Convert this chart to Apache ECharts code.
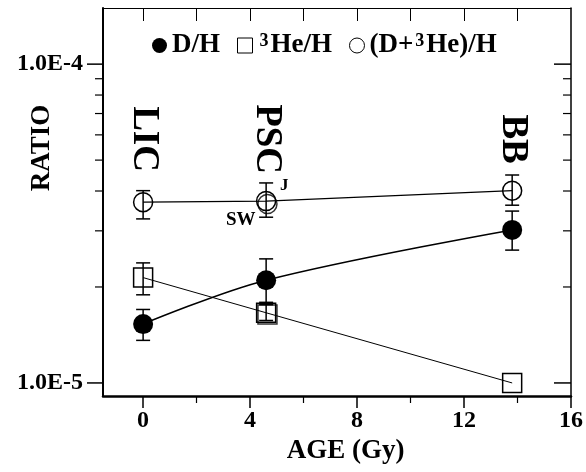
<!DOCTYPE html>
<html><head><meta charset="utf-8">
<script src="https://cdn.jsdelivr.net/npm/echarts@6/dist/echarts.min.js"></script>
<style>html,body{margin:0;padding:0;background:#fff}#c{width:586px;height:472px}</style>
</head><body><div id="c"></div>
<script>
// ---- data ----
const stageX = [0, 4.6, 13.8];
const dhValues = [1.53e-5, 2.10e-5, 3.02e-5];
const dhLow = [1.36e-5, 1.79e-5, 2.61e-5];
const dhHigh = [1.70e-5, 2.45e-5, 3.46e-5];
const he3Values = [2.14e-5, 1.66e-5, 1.0e-5];
const he3Low = [1.89e-5, 1.57e-5, null];
const he3High = [2.38e-5, 1.76e-5, null];
const sumValues = [3.69e-5, 3.72e-5, 4.01e-5];
const sumLow = [3.27e-5, 3.31e-5, 3.61e-5];
const sumHigh = [4.01e-5, 4.24e-5, 4.49e-5];
// second, overlapping PSC measurements (SW vs J)
const pscSecondX = [4.65];
const sumSecondValues = [3.64e-5];
const he3SecondValues = [1.64e-5];
const stageNames = ['LIC', 'PSC', 'BB'];
const stageLabelY = 5.82e-5;
const noteTexts = ['J', 'SW'];
const noteX = [5.28, 3.65];
const noteY = [4.15e-5, 3.24e-5];
const xMajorTicks = [0, 4, 8, 12, 16];
const xMinorTicks = [2, 6, 10, 14];
const xTopTicks = [0, 2, 4, 6, 8, 10, 12, 14];
const yMajorTicks = [1e-5, 1e-4];
const yMinorTicks = [2e-5, 3e-5, 4e-5, 5e-5, 6e-5, 7e-5, 8e-5, 9e-5];
const seriesNames = ['D/H', '3He/H', '(D+3He)/H'];

// ---- chart ----
const FONT = '"Liberation Serif", "Times New Roman", serif';
const chart = echarts.init(document.getElementById('c'), null, {renderer: 'canvas'});
const zip = (xs, ys) => xs.map((x, i) => [x, ys[i]]);
const errRows = [];
[[dhLow, dhHigh], [he3Low, he3High], [sumLow, sumHigh]].forEach(([lo, hi]) => {
  stageX.forEach((x, i) => { if (lo[i] != null) errRows.push([x, lo[i], hi[i]]); });
});
const tickRows = yMajorTicks.map(v => [0, v, 1]).concat(yMinorTicks.map(v => [0, v, 0]));
const stageRows = stageX.map((x, i) => [x, stageLabelY, i]);
const noteRows = noteX.map((x, i) => [x, noteY[i], i]);
const openStyle = {color: 'rgba(255,255,255,0)', borderColor: '#000', borderWidth: 1.5};

const option = {
  animation: false,
  backgroundColor: '#fff',
  grid: {left: 103, right: 11, top: 8, bottom: 76},
  legend: {
    left: 147, top: 27, itemWidth: 15, itemHeight: 15, itemGap: 17,
    selectedMode: false,
    data: [
      {name: seriesNames[0], icon: 'circle', itemStyle: {color: '#000', borderWidth: 0}},
      {name: seriesNames[1], icon: 'rect', itemStyle: {color: '#fff', borderColor: '#000', borderWidth: 1}},
      {name: seriesNames[2], icon: 'circle', itemStyle: {color: '#fff', borderColor: '#000', borderWidth: 1}}
    ],
    formatter: n => n.replace('3He', '{s|3}{t|He}').replace(/^([^{]*)\{/, '{t|$1}{').replace(/\}([^{}]+)$/, '}{t|$1}').replace(/^([^{}]+)$/, '{t|$1}'),
    textStyle: {
      color: '#000', fontFamily: FONT, fontWeight: 'bold', fontSize: 27,
      rich: {
        t: {color: '#000', fontFamily: FONT, fontWeight: 'bold', fontSize: 27},
        s: {color: '#000', fontFamily: FONT, fontWeight: 'bold', fontSize: 18, verticalAlign: 'top', padding: [0, 2, 0, 2]}
      }
    }
  },
  xAxis: [
    {
      type: 'value', position: 'bottom', min: -1.5, max: 16,
      name: 'AGE (Gy)', nameLocation: 'middle', nameGap: 38,
      nameTextStyle: {color: '#000', fontFamily: FONT, fontWeight: 'bold', fontSize: 27, padding: [0, 0, 0, 17]},
      axisLine: {onZero: false, lineStyle: {color: '#000', width: 2.5}},
      axisTick: {inside: false, length: 12, customValues: xMajorTicks, lineStyle: {color: '#000', width: 1.5}},
      axisLabel: {customValues: xMajorTicks, margin: 13, color: '#000', fontFamily: FONT, fontWeight: 'bold', fontSize: 24},
      splitLine: {show: false}
    },
    {
      type: 'value', position: 'bottom', min: -1.5, max: 16,
      axisLine: {show: false, onZero: false},
      axisTick: {inside: false, length: 7, customValues: xMinorTicks, lineStyle: {color: '#000', width: 1.2}},
      axisLabel: {show: false}, splitLine: {show: false}
    },
    {
      type: 'value', position: 'top', min: -1.5, max: 16,
      axisLine: {onZero: false, lineStyle: {color: '#000', width: 1}},
      axisTick: {inside: true, length: 13, customValues: xTopTicks, lineStyle: {color: '#000', width: 1}},
      axisLabel: {show: false}, splitLine: {show: false}
    }
  ],
  yAxis: [
    {
      type: 'log', logBase: 10, position: 'left', min: 9.1e-6, max: 1.5e-4,
      axisLine: {show: true, onZero: false, lineStyle: {color: '#000', width: 2}},
      axisTick: {show: false}, minorTick: {show: false},
      axisLabel: {
        margin: 20, color: '#000', fontFamily: FONT, fontWeight: 'bold', fontSize: 24,
        formatter: v => { const l = Math.log10(v); return Math.abs(l - Math.round(l)) < 1e-6 ? '1.0E' + Math.round(l) : ''; }
      },
      splitLine: {show: false}
    },
    {
      type: 'log', logBase: 10, position: 'right', min: 9.1e-6, max: 1.5e-4,
      axisLine: {show: true, onZero: false, lineStyle: {color: '#000', width: 1.5}},
      axisTick: {show: false}, axisLabel: {show: false}, splitLine: {show: false}
    }
  ],
  graphic: [{
    type: 'text', x: 42, y: 148, rotation: Math.PI / 2,
    style: {text: 'RATIO', font: 'bold 27px ' + FONT, fill: '#000', align: 'center', verticalAlign: 'middle'}
  }],
  series: [
    {
      name: seriesNames[1], type: 'line', data: zip(stageX, he3Values), z: 3,
      symbol: 'rect', symbolSize: 19, itemStyle: openStyle,
      lineStyle: {color: '#000', width: 1}
    },
    {
      name: seriesNames[2], type: 'line', data: zip(stageX, sumValues), z: 3,
      symbol: 'circle', symbolSize: 19, itemStyle: openStyle,
      lineStyle: {color: '#000', width: 1.2}
    },
    {
      name: seriesNames[0], type: 'line', data: zip(stageX, dhValues), z: 4, smooth: 0.35,
      symbol: 'circle', symbolSize: 20, itemStyle: {color: '#000'},
      lineStyle: {color: '#000', width: 1.6}
    },
    {
      type: 'scatter', data: zip(pscSecondX, sumSecondValues), z: 3,
      symbol: 'circle', symbolSize: 19, itemStyle: openStyle
    },
    {
      type: 'scatter', data: zip(pscSecondX, he3SecondValues), z: 3,
      symbol: 'rect', symbolSize: 19, itemStyle: openStyle
    },
    {
      type: 'custom', data: errRows, z: 5, clip: false,
      renderItem: (params, api) => {
        const x = api.value(0);
        const lo = api.coord([x, api.value(1)]);
        const hi = api.coord([x, api.value(2)]);
        const w = 7;
        const st = {stroke: '#000', lineWidth: 1.5};
        return {type: 'group', children: [
          {type: 'line', shape: {x1: lo[0], y1: lo[1], x2: hi[0], y2: hi[1]}, style: st},
          {type: 'line', shape: {x1: lo[0] - w, y1: lo[1], x2: lo[0] + w, y2: lo[1]}, style: st},
          {type: 'line', shape: {x1: hi[0] - w, y1: hi[1], x2: hi[0] + w, y2: hi[1]}, style: st}
        ]};
      }
    },
    {
      type: 'custom', data: tickRows, z: 6, clip: false, silent: true,
      renderItem: (params, api) => {
        const cs = params.coordSys;
        const y = api.coord([0, api.value(1)])[1];
        const major = api.value(2) === 1;
        const L = major ? 16 : 8;
        const R = major ? 17 : 8;
        const st = {stroke: '#000', lineWidth: major ? 1.5 : 1.2};
        return {type: 'group', children: [
          {type: 'line', shape: {x1: cs.x - L, y1: y, x2: cs.x, y2: y}, style: st},
          {type: 'line', shape: {x1: cs.x + cs.width - R, y1: y, x2: cs.x + cs.width, y2: y}, style: st}
        ]};
      }
    },
    {
      type: 'custom', data: stageRows, z: 6, clip: false, silent: true,
      renderItem: (params, api) => {
        const p = api.coord([api.value(0), api.value(1)]);
        return {type: 'text', x: p[0], y: p[1], rotation: -Math.PI / 2,
          style: {text: stageNames[api.value(2)], font: 'bold 37px ' + FONT, fill: '#000', align: 'center', verticalAlign: 'middle'}};
      }
    },
    {
      type: 'custom', data: noteRows, z: 6, clip: false, silent: true,
      renderItem: (params, api) => {
        const p = api.coord([api.value(0), api.value(1)]);
        const i = api.value(2);
        return {type: 'text', x: p[0], y: p[1],
          style: {text: noteTexts[i], font: 'bold ' + (i === 0 ? 17 : 19) + 'px ' + FONT, fill: '#000', align: 'center', verticalAlign: 'middle'}};
      }
    }
  ]
};
chart.setOption(option);
</script>
</body></html>
